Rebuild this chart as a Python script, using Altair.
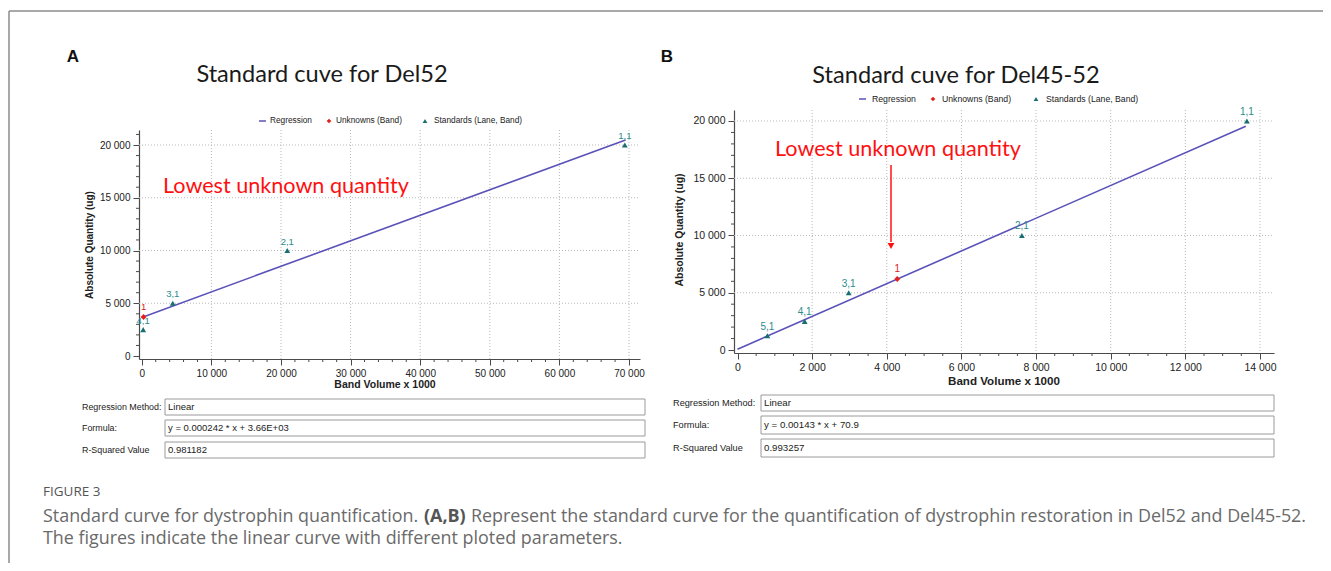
import altair as alt
import pandas as pd

# ---------------- data ----------------
# Panel A : Del52
a_std_x = [69400, 20900, 4450, 200]
a_std_y = [20000, 10000, 5000, 2500]
a_std_lab = ["1,1", "2,1", "3,1", "4,1"]
a_unk_x = [250]
a_unk_y = [3700]
a_unk_lab = ["1"]
a_reg_x = [0, 69500]
a_reg_y = [3660, 20480]
a_xticks = [0, 10000, 20000, 30000, 40000, 50000, 60000, 70000]
a_yticks = [0, 5000, 10000, 15000, 20000]
a_xminor = [2000, 4000, 6000, 8000, 12000, 14000, 16000, 18000, 22000, 24000, 26000, 28000,
            32000, 34000, 36000, 38000, 42000, 44000, 46000, 48000, 52000, 54000, 56000, 58000,
            62000, 64000, 66000, 68000]
a_yminor = [1000, 2000, 3000, 4000, 6000, 7000, 8000, 9000, 11000, 12000, 13000, 14000,
            16000, 17000, 18000, 19000, 21000]

# Panel B : Del45-52
b_std_x = [13650, 7620, 2980, 1800, 800]
b_std_y = [20000, 10000, 5000, 2500, 1250]
b_std_lab = ["1,1", "2,1", "3,1", "4,1", "5,1"]
b_unk_x = [4280]
b_unk_y = [6200]
b_unk_lab = ["1"]
b_reg_x = [0, 13620]
b_reg_y = [70.9, 19547]
b_xticks = [0, 2000, 4000, 6000, 8000, 10000, 12000, 14000]
b_yticks = [0, 5000, 10000, 15000, 20000]
b_xminor = [500, 1000, 1500, 2500, 3000, 3500, 4500, 5000, 5500, 6500, 7000, 7500,
            8500, 9000, 9500, 10500, 11000, 11500, 12500, 13000, 13500]
b_yminor = [1000, 2000, 3000, 4000, 6000, 7000, 8000, 9000, 11000, 12000, 13000, 14000,
            16000, 17000, 18000, 19000]

# ---------------- styling ----------------
W, H = 1315, 555
def P(v):
    return v - 8

REG = "#5a52b8"
TEAL = "#17706f"
TEAL_T = "#2a8c8a"
RED = "#e3201b"
GRID = "#b9b9b9"
AX = "#4a4a4a"
LBL = "#222222"
SANS = "Liberation Sans"

ONE = pd.DataFrame({"k": [0]})


def text(s, x, y, size, color=LBL, font=SANS, weight="normal", align="left", angle=None):
    kw = dict(text=s, fontSize=size, color=color, font=font, fontWeight=weight,
              align=align, baseline="middle")
    if angle is not None:
        kw["angle"] = angle
    return alt.Chart(ONE).mark_text(**kw).encode(x=alt.value(P(x)), y=alt.value(P(y)))


def hrule(x1, x2, y, color, width=1.0):
    return alt.Chart(ONE).mark_rule(color=color, strokeWidth=width).encode(
        x=alt.value(P(x1)), x2=alt.value(P(x2)), y=alt.value(P(y)))


def vrule(x, y1, y2, color, width=1.0):
    return alt.Chart(ONE).mark_rule(color=color, strokeWidth=width).encode(
        x=alt.value(P(x)), y=alt.value(P(y1)), y2=alt.value(P(y2)))


def box(x1, x2, y1, y2):
    return alt.Chart(ONE).mark_rect(fill="white", stroke="#9a9a9a", strokeWidth=1).encode(
        x=alt.value(P(x1)), x2=alt.value(P(x2)), y=alt.value(P(y1)), y2=alt.value(P(y2)))


def sym(shape, x, y, color, size):
    return alt.Chart(ONE).mark_point(shape=shape, filled=True, color=color, size=size, opacity=1).encode(
        x=alt.value(P(x)), y=alt.value(P(y)))


LABEL_EXPR = "replace(format(datum.value, ','), ',', ' ')"


def panel(std_x, std_y, std_lab, unk_x, unk_y, unk_lab, reg_x, reg_y,
          xticks, yticks, xminor, yminor, xdom, ydom, left, right, top, bottom, fs):
    xs = alt.Scale(domain=xdom, range=[P(left), P(right)], nice=False, zero=False)
    ys = alt.Scale(domain=ydom, range=[P(bottom), P(top)], nice=False, zero=False)
    ax_x = alt.Axis(orient="bottom", offset=P(bottom) - H, values=xticks, grid=False,
                    title=None, labelExpr=LABEL_EXPR, labelFont=SANS, labelFontSize=fs,
                    labelColor=LBL, labelFlush=False, labelOverlap=False, labelPadding=3,
                    tickSize=6, tickColor=AX, domainColor=AX, domainWidth=1.2)
    ax_y = alt.Axis(orient="left", offset=-P(left), values=yticks, grid=False,
                    title=None, labelExpr=LABEL_EXPR, labelFont=SANS, labelFontSize=fs,
                    labelColor=LBL, labelFlush=False, labelOverlap=False, labelPadding=3,
                    tickSize=6, tickColor=AX, domainColor=AX, domainWidth=1.2)

    dfxg = pd.DataFrame({"v": xticks[1:]})
    dfyg = pd.DataFrame({"v": yticks[1:]})
    dfxm = pd.DataFrame({"v": xminor})
    dfym = pd.DataFrame({"v": yminor})
    std = pd.DataFrame({"x": std_x, "y": std_y, "lab": std_lab})
    unk = pd.DataFrame({"x": unk_x, "y": unk_y, "lab": unk_lab})
    reg = pd.DataFrame({"x": reg_x, "y": reg_y})

    X = lambda f: alt.X(f, scale=xs, axis=ax_x)
    Y = lambda f: alt.Y(f, scale=ys, axis=ax_y)

    layers = [
        # dotted grid
        alt.Chart(dfxg).mark_rule(color=GRID, strokeDash=[1, 2], strokeWidth=1).encode(
            x=X("v:Q"), y=alt.value(P(top)), y2=alt.value(P(bottom))),
        alt.Chart(dfyg).mark_rule(color=GRID, strokeDash=[1, 2], strokeWidth=1).encode(
            y=Y("v:Q"), x=alt.value(P(left)), x2=alt.value(P(right))),
        # minor ticks
        alt.Chart(dfxm).mark_rule(color=AX, strokeWidth=1).encode(
            x=X("v:Q"), y=alt.value(P(bottom)), y2=alt.value(P(bottom) + 3)),
        alt.Chart(dfym).mark_rule(color=AX, strokeWidth=1).encode(
            y=Y("v:Q"), x=alt.value(P(left) - 3), x2=alt.value(P(left))),
        # regression
        alt.Chart(reg).mark_line(color=REG, strokeWidth=1.6).encode(x=X("x:Q"), y=Y("y:Q")),
        # points
        alt.Chart(std).mark_point(shape="triangle-up", filled=True, color=TEAL, size=34, opacity=1).encode(
            x=X("x:Q"), y=Y("y:Q")),
        alt.Chart(unk).mark_point(shape="diamond", filled=True, color=RED, size=34, opacity=1).encode(
            x=X("x:Q"), y=Y("y:Q")),
        alt.Chart(std).mark_text(dy=-9, fontSize=fs - 0.5, font=SANS, color=TEAL_T).encode(
            x=X("x:Q"), y=Y("y:Q"), text="lab:N"),
        alt.Chart(unk).mark_text(dy=-10, fontSize=fs - 0.5, font=SANS, color=RED).encode(
            x=X("x:Q"), y=Y("y:Q"), text="lab:N"),
    ]
    return alt.layer(*layers)


panelA = panel(a_std_x, a_std_y, a_std_lab, a_unk_x, a_unk_y, a_unk_lab, a_reg_x, a_reg_y,
               a_xticks, a_yticks, a_xminor, a_yminor,
               xdom=[-400, 71580], ydom=[-284, 21422],
               left=139, right=640, top=130, bottom=359, fs=10)
panelB = panel(b_std_x, b_std_y, b_std_lab, b_unk_x, b_unk_y, b_unk_lab, b_reg_x, b_reg_y,
               b_xticks, b_yticks, b_xminor, b_yminor,
               xdom=[-94, 14376], ydom=[-262, 20960],
               left=734, right=1274, top=110, bottom=353, fs=10.5)

TITLE_FONT = "Lato"
CAP = "Open Sans"
CS = 17.9
deco = [
    # frame of the figure
    hrule(9, 1331, 11, "#8c8c8c", 1.5),
    vrule(9, 11, 571, "#8c8c8c", 1.5),
    # panel letters
    text("A", 73, 57, 17, "#111", weight="bold", align="center"),
    text("B", 667, 57, 17, "#111", weight="bold", align="center"),
    # panel titles
    text("Standard cuve for Del52", 322, 75, 23.6, "#1a1a1a", font=TITLE_FONT, align="center"),
    text("Standard cuve for Del45-52", 956, 76, 23.6, "#1a1a1a", font=TITLE_FONT, align="center"),
    # legends A
    hrule(259, 266, 121, REG, 1.5),
    text("Regression", 270, 121, 8.3, LBL),
    sym("diamond", 329, 121, RED, 22),
    text("Unknowns (Band)", 336, 121, 8.3, LBL),
    sym("triangle-up", 425, 121, TEAL, 22),
    text("Standards (Lane, Band)", 434, 121, 8.3, LBL),
    # legends B
    hrule(859, 866, 99, REG, 1.5),
    text("Regression", 872, 99, 8.7, LBL),
    sym("diamond", 933, 99, RED, 22),
    text("Unknowns (Band)", 942, 99, 8.7, LBL),
    sym("triangle-up", 1036, 99, TEAL, 22),
    text("Standards (Lane, Band)", 1046, 99, 8.7, LBL),
    # axis titles
    text("Absolute Quantity (ug)", 90, 245, 10, "#222", weight="bold", align="center", angle=270),
    text("Band Volume x 1000", 385, 385, 10.5, "#222", weight="bold", align="center"),
    text("Absolute Quantity (ug)", 680, 230, 10.5, "#222", weight="bold", align="center", angle=270),
    text("Band Volume x 1000", 1004, 382, 11.6, "#222", weight="bold", align="center"),
    # annotations
    text("Lowest unknown quantity", 163, 187, 21.6, "#ff1010", font=TITLE_FONT),
    text("Lowest unknown quantity", 775, 150, 21.6, "#ff1010", font=TITLE_FONT),
    vrule(891, 165, 242, "#ff1010", 1.5),
    sym("triangle-down", 891, 246, "#ff1010", 45),
    # table A
    box(165, 645, 399, 415), box(165, 645, 420, 436), box(165, 645, 442, 458),
    text("Regression Method:", 82, 407, 8.9, LBL),
    text("Formula:", 82, 428, 8.9, LBL),
    text("R-Squared Value", 82, 450, 8.9, LBL),
    text("Linear", 168, 407, 9.5, LBL),
    text("y = 0.000242 * x + 3.66E+03", 168, 428, 9.5, LBL),
    text("0.981182", 168, 450, 9.5, LBL),
    # table B
    box(761, 1274, 395, 411), box(761, 1274, 416, 434), box(761, 1274, 439, 457),
    text("Regression Method:", 673, 403, 9.2, LBL),
    text("Formula:", 673, 425, 9.2, LBL),
    text("R-Squared Value", 673, 448, 9.2, LBL),
    text("Linear", 764, 403, 9.7, LBL),
    text("y = 0.00143 * x + 70.9", 764, 425, 9.7, LBL),
    text("0.993257", 764, 448, 9.7, LBL),
    # caption
    text("FIGURE 3", 43, 492, 13.5, "#555", font=CAP),
    text("Standard curve for dystrophin quantification.", 43, 517, CS, "#6a6a6a", font=CAP),
    text("(A,B)", 424, 517, CS, "#555", font=CAP, weight="bold"),
    text("Represent the standard curve for the quantification of dystrophin restoration in Del52 and Del45-52.",
         471, 517, CS, "#6a6a6a", font=CAP),
    text("The figures indicate the linear curve with different ploted parameters.", 43, 539, CS, "#6a6a6a",
         font=CAP),
]

chart = alt.layer(panelA, panelB, *deco).resolve_scale(x="independent", y="independent").properties(
    width=W, height=H, autosize="none", padding=0
).configure_view(strokeWidth=0)

chart.save("out.html", embed_options={"renderer": "svg", "actions": False})
